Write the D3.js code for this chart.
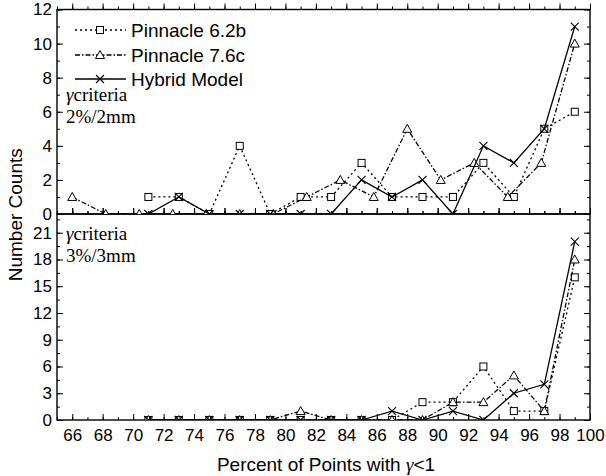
<!DOCTYPE html>
<html><head><meta charset="utf-8">
<script src="https://cdn.jsdelivr.net/npm/d3@7"></script>
<style>body{margin:0;background:#fff}svg{display:block}</style>
</head><body>
<script>
// ---------- DATA ----------
const seriesNames = ["Pinnacle 6.2b", "Pinnacle 7.6c", "Hybrid Model"];
// top panel (2%/2mm)
const topX62 = [71,73,75,77,79,81,83,85,87,89,91,93,95,97,99];
const topY62 = [1,1,0,4,0,1,1,3,1,1,1,3,1,5,6];
const topX76 = [66,68.2,70.4,72.6,74.8,77,79.2,81.4,83.6,85.8,88,90.2,92.4,94.6,96.8,99];
const topY76 = [1,0,0,0,0,0,0,1,2,1,5,2,3,1,3,10];
const topXHy = [71,73,75,77,79,81,83,85,87,89,91,93,95,97,99];
const topYHy = [0,1,0,0,0,0,0,2,1,2,0,4,3,5,11];
// bottom panel (3%/3mm)
const botX = [71,73,75,77,79,81,83,85,87,89,91,93,95,97,99];
const botY62 = [0,0,0,0,0,0,0,0,0,2,2,6,1,1,16];
const botY76 = [0,0,0,0,0,1,0,0,0,0,2,2,5,1,18];
const botYHy = [0,0,0,0,0,0,0,0,1,0,1,0,3,4,20];
const xTicks = [66,68,70,72,74,76,78,80,82,84,86,88,90,92,94,96,98,100];
const topYTicks = [0,2,4,6,8,10,12];
const botYTicks = [0,3,6,9,12,15,18,21];
const xLabel = "Percent of Points with ";
const yLabel = "Number Counts";
const topNote = ["criteria", "2%/2mm"];
const botNote = ["criteria", "3%/3mm"];

// ---------- LAYOUT ----------
const W = 606, H = 476;
const L = 57, R = 590, T1 = 9.5, MID = 214, B2 = 420;
const svg = d3.select("body").append("svg").attr("width", W).attr("height", H);
const SANS = "Liberation Sans, Arial, sans-serif";
const SERIF = "Liberation Serif, Times New Roman, serif";

const x = d3.scaleLinear().domain([65, 100]).range([L, R]);
const yTop = d3.scaleLinear().domain([0, 12]).range([MID, T1]);
const yBot = d3.scaleLinear().domain([0, 23.1]).range([B2, MID]);

const defs = svg.append("defs");
defs.append("clipPath").attr("id", "clipTop").append("rect")
  .attr("x", L).attr("y", T1).attr("width", R - L).attr("height", MID - T1);
defs.append("clipPath").attr("id", "clipBot").append("rect")
  .attr("x", L).attr("y", MID).attr("width", R - L).attr("height", B2 - MID);

const styles = [
  {dash: "2,3", marker: "square"},
  {dash: "5,2,1.5,2", marker: "triangle"},
  {dash: null, marker: "cross"}
];

function drawMarker(g, type, cx, cy) {
  if (type === "square") {
    g.append("rect").attr("x", cx - 3.5).attr("y", cy - 3.5).attr("width", 7).attr("height", 7)
      .attr("fill", "#fff").attr("stroke", "#000").attr("stroke-width", 1);
  } else if (type === "triangle") {
    g.append("path").attr("d", `M${cx},${cy - 4.5}L${cx + 4.5},${cy + 3.5}L${cx - 4.5},${cy + 3.5}Z`)
      .attr("fill", "#fff").attr("stroke", "#000").attr("stroke-width", 1);
  } else {
    g.append("path").attr("d", `M${cx - 4},${cy - 4}L${cx + 4},${cy + 4}M${cx - 4},${cy + 4}L${cx + 4},${cy - 4}`)
      .attr("stroke", "#000").attr("stroke-width", 1.1);
  }
}

function drawSeries(xs, ys, yScale, st, clip) {
  const g = svg.append("g").attr("clip-path", `url(#${clip})`);
  const pts = xs.map((v, i) => [v, ys[i]]);
  const line = d3.line().x(d => x(d[0])).y(d => yScale(d[1]));
  g.append("path").attr("d", line(pts)).attr("fill", "none").attr("stroke", "#000")
    .attr("stroke-width", 1.3).attr("stroke-dasharray", st.dash);
  pts.forEach(d => drawMarker(g, st.marker, x(d[0]), yScale(d[1])));
}

// frames and axes
function panel(yScale, yTicks, minorStep, top, bottom) {
  const minor = d3.range(yScale.domain()[0], yScale.domain()[1] + 1e-9, minorStep);
  const la = svg.append("g").attr("transform", `translate(${L},0)`)
    .call(d3.axisLeft(yScale).tickValues(yTicks).tickSize(-6).tickPadding(5).tickFormat(d3.format("d")));
  la.select(".domain").remove();
  la.selectAll("text").attr("font-family", SANS).attr("font-size", 17).attr("fill", "#000");
  la.selectAll("line").attr("stroke", "#000");
  const lm = svg.append("g").attr("transform", `translate(${L},0)`)
    .call(d3.axisLeft(yScale).tickValues(minor).tickSize(-3).tickFormat(""));
  lm.select(".domain").remove();
  const ra = svg.append("g").attr("transform", `translate(${R},0)`)
    .call(d3.axisRight(yScale).tickValues(yTicks).tickSize(-6).tickFormat(""));
  ra.select(".domain").remove();
  const rm = svg.append("g").attr("transform", `translate(${R},0)`)
    .call(d3.axisRight(yScale).tickValues(minor).tickSize(-3).tickFormat(""));
  rm.select(".domain").remove();
  const xMinor = d3.range(65, 100.5, 1);
  [[top, d3.axisTop, 1], [bottom, d3.axisBottom, -1]].forEach(([yy, ax, s]) => {
    const ga = svg.append("g").attr("transform", `translate(0,${yy})`)
      .call(ax(x).tickValues(xTicks).tickSize(6 * s).tickFormat(""));
    ga.select(".domain").remove();
    const gm = svg.append("g").attr("transform", `translate(0,${yy})`)
      .call(ax(x).tickValues(xMinor).tickSize(3 * s).tickFormat(""));
    gm.select(".domain").remove();
  });
  svg.append("rect").attr("x", L).attr("y", top).attr("width", R - L).attr("height", bottom - top)
    .attr("fill", "none").attr("stroke", "#000").attr("stroke-width", 1.4);
}

panel(yTop, topYTicks, 1, T1, MID);
panel(yBot, botYTicks, 1.5, MID, B2);

// x labels
const xa = svg.append("g").attr("transform", `translate(0,${B2})`)
  .call(d3.axisBottom(x).tickValues(xTicks).tickSize(0).tickPadding(9).tickFormat(d3.format("d")));
xa.select(".domain").remove();
xa.selectAll("text").attr("font-family", SANS).attr("font-size", 17).attr("fill", "#000");

// series
drawSeries(topX62, topY62, yTop, styles[0], "clipTop");
drawSeries(topX76, topY76, yTop, styles[1], "clipTop");
drawSeries(topXHy, topYHy, yTop, styles[2], "clipTop");
drawSeries(botX, botY62, yBot, styles[0], "clipBot");
drawSeries(botX, botY76, yBot, styles[1], "clipBot");
drawSeries(botX, botYHy, yBot, styles[2], "clipBot");

// legend
const legY = [30, 55, 79];
seriesNames.forEach((n, i) => {
  const g = svg.append("g");
  g.append("line").attr("x1", 75).attr("x2", 126).attr("y1", legY[i]).attr("y2", legY[i])
    .attr("stroke", "#000").attr("stroke-width", 1.3).attr("stroke-dasharray", styles[i].dash);
  drawMarker(g, styles[i].marker, 100, legY[i]);
  g.append("text").attr("x", 131).attr("y", legY[i] + 7).text(n)
    .attr("font-family", SANS).attr("font-size", 19).attr("fill", "#000");
});

// notes
function note(lines, y0) {
  const t = svg.append("text").attr("x", 66).attr("y", y0)
    .attr("font-family", SERIF).attr("font-size", 19).attr("fill", "#000");
  t.append("tspan").attr("font-style", "italic").text("γ");
  t.append("tspan").text(lines[0]);
  svg.append("text").attr("x", 66).attr("y", y0 + 22).text(lines[1])
    .attr("font-family", SERIF).attr("font-size", 19).attr("fill", "#000");
}
note(topNote, 101);
note(botNote, 240);

// axis titles
const xt = svg.append("text").attr("x", 326).attr("y", 471).attr("text-anchor", "middle")
  .attr("font-family", SANS).attr("font-size", 19).attr("fill", "#000");
xt.append("tspan").text(xLabel);
xt.append("tspan").attr("font-family", SERIF).attr("font-style", "italic").text("γ");
xt.append("tspan").text("<1");
svg.append("text").attr("transform", `translate(22,${(T1 + B2) / 2}) rotate(-90)`).attr("text-anchor", "middle")
  .attr("font-family", SANS).attr("font-size", 19).attr("fill", "#000").text(yLabel);
</script>
</body></html>
